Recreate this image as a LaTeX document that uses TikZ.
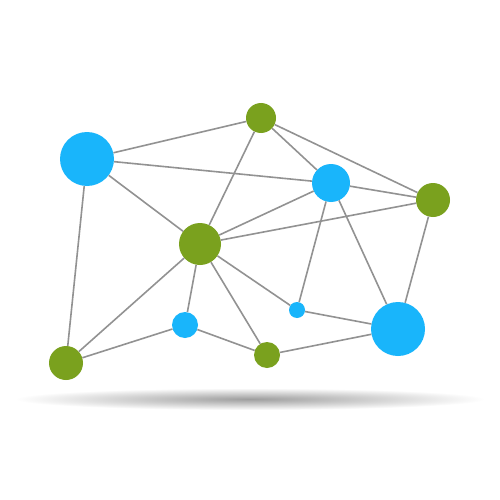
\documentclass[tikz,border=0pt]{standalone}
\usepackage{tikz}

\definecolor{dotblue}{HTML}{19B5FB}
\definecolor{dotgreen}{HTML}{7AA11E}
\definecolor{linkgray}{HTML}{929292}

\tikzset{
  blue dot/.style={circle, inner sep=0pt, fill=dotblue},
  green dot/.style={circle, inner sep=0pt, fill=dotgreen},
  link/.style={draw=linkgray, line width=1.6pt}
}

\begin{document}
\begin{tikzpicture}[x=1pt, y=-1pt]

\useasboundingbox[fill=white] (0, 0) rectangle (500, 500);

% Shadow under the net
\shade[inner color=black!38, outer color=white] (250, 399) ellipse (235 and 11);

% Blue dots
\node[blue dot, minimum size=54pt] (bigleft) at (87, 159) {};
\node[blue dot, minimum size=38pt] (midright) at (331, 183) {};
\node[blue dot, minimum size=26pt] (lowmid) at (185, 325) {};
\node[blue dot, minimum size=16pt] (tiny) at (297, 310) {};
\node[blue dot, minimum size=54pt] (bigright) at (398, 329) {};

% Green dots
\node[green dot, minimum size=30pt] (top) at (261, 118) {};
\node[green dot, minimum size=34pt] (farright) at (433, 200) {};
\node[green dot, minimum size=42pt] (hub) at (200, 244) {};
\node[green dot, minimum size=34pt] (lowleft) at (66, 363) {};
\node[green dot, minimum size=26pt] (lowcenter) at (267, 355) {};

% Links
\draw[link] (bigleft) -- (top);
\draw[link] (bigleft) -- (midright);
\draw[link] (bigleft) -- (hub);
\draw[link] (bigleft) -- (lowleft);
\draw[link] (top) -- (hub);
\draw[link] (top) -- (midright);
\draw[link] (top) -- (farright);
\draw[link] (midright) -- (farright);
\draw[link] (midright) -- (hub);
\draw[link] (midright) -- (tiny);
\draw[link] (midright) -- (bigright);
\draw[link] (farright) -- (hub);
\draw[link] (farright) -- (bigright);
\draw[link] (hub) -- (lowleft);
\draw[link] (hub) -- (lowmid);
\draw[link] (hub) -- (lowcenter);
\draw[link] (hub) -- (tiny);
\draw[link] (tiny) -- (bigright);
\draw[link] (lowmid) -- (lowleft);
\draw[link] (lowmid) -- (lowcenter);
\draw[link] (lowcenter) -- (bigright);

\end{tikzpicture}
\end{document}
